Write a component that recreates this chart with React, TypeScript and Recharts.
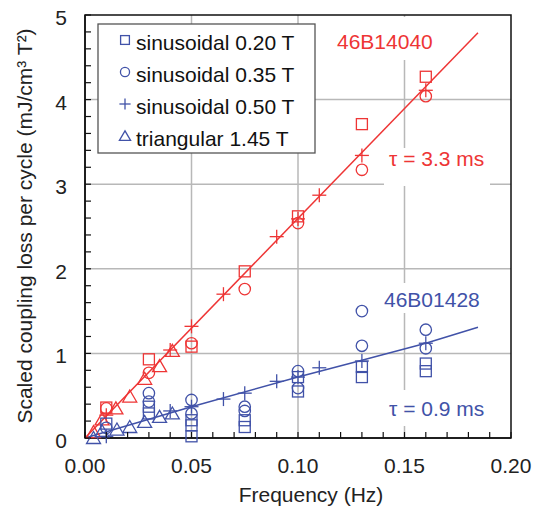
import { ComposedChart, Scatter, Line, XAxis, YAxis, CartesianGrid, ReferenceArea } from 'recharts'

const RED = '#ee3535'
const BLUE = '#4152a8'
const FONT = '"Liberation Sans", Arial, sans-serif'

// sample 46B14040 (red), [frequency Hz, loss]
const redSquare = [[0.01, 0.36], [0.03, 0.93], [0.05, 1.08], [0.075, 1.97], [0.10, 2.62], [0.13, 3.71], [0.16, 4.27]]
const redCircle = [[0.01, 0.35], [0.03, 0.77], [0.05, 1.12], [0.075, 1.76], [0.10, 2.54], [0.13, 3.17], [0.16, 4.04]]
const redPlus = [[0.01, 0.27], [0.04, 1.04], [0.05, 1.32], [0.065, 1.70], [0.09, 2.38], [0.10, 2.59], [0.11, 2.87], [0.13, 3.34], [0.16, 4.11]]
const redTriangle = [[0.004, 0.07], [0.008, 0.22], [0.0145, 0.35], [0.021, 0.49], [0.028, 0.70], [0.035, 0.85], [0.041, 1.03]]
const redFit = [[0, 0], [0.1845, 4.79]]

// sample 46B01428 (blue)
const blueSquare = [[0.01, 0.17], [0.03, 0.37], [0.03, 0.29], [0.05, 0.21], [0.05, 0.15], [0.05, 0.02], [0.075, 0.21], [0.075, 0.13], [0.10, 0.72], [0.10, 0.55], [0.13, 0.84], [0.13, 0.72], [0.16, 0.88], [0.16, 0.79]]
const blueCircle = [[0.01, 0.12], [0.03, 0.53], [0.03, 0.43], [0.05, 0.45], [0.05, 0.29], [0.075, 0.37], [0.075, 0.32], [0.10, 0.79], [0.10, 0.59], [0.13, 1.50], [0.13, 1.09], [0.16, 1.28], [0.16, 1.06]]
const bluePlus = [[0.01, 0.02], [0.04, 0.32], [0.05, 0.37], [0.065, 0.46], [0.075, 0.53], [0.09, 0.67], [0.10, 0.72], [0.11, 0.83], [0.13, 0.91], [0.16, 1.12]]
const blueTriangle = [[0.004, 0.0], [0.008, 0.08], [0.015, 0.10], [0.021, 0.13], [0.028, 0.19], [0.035, 0.25], [0.041, 0.29]]
const blueFit = [[0, 0], [0.05, 0.37], [0.10, 0.72], [0.13, 0.92], [0.16, 1.12], [0.1845, 1.31]]

const xTicks = [0, 0.01, 0.02, 0.03, 0.04, 0.05, 0.06, 0.07, 0.08, 0.09, 0.10, 0.11, 0.12, 0.13, 0.14, 0.15, 0.16, 0.17, 0.18, 0.19, 0.20]
const xMajor = [0, 0.05, 0.10, 0.15, 0.20]
const yTicks = [0, 0.2, 0.4, 0.6, 0.8, 1, 1.2, 1.4, 1.6, 1.8, 2, 2.2, 2.4, 2.6, 2.8, 3, 3.2, 3.4, 3.6, 3.8, 4, 4.2, 4.4, 4.6, 4.8, 5]
const yMajor = [0, 1, 2, 3, 4, 5]

const legendLabels = ['sinusoidal 0.20 T', 'sinusoidal 0.35 T', 'sinusoidal 0.50 T', 'triangular 1.45 T']

const pts = (a: number[][]) => a.map(([x, y]) => ({ x, y }))

function Marker({ kind, cx, cy, c, s = 1 }: { kind: string; cx: number; cy: number; c: string; s?: number }) {
  if (cx == null || cy == null) return null
  if (kind === 'square') return <rect x={cx - 5.5 * s} y={cy - 5.5 * s} width={11 * s} height={11 * s} fill="none" stroke={c} strokeWidth={1.3} />
  if (kind === 'circle') return <circle cx={cx} cy={cy} r={5.7 * s} fill="none" stroke={c} strokeWidth={1.3} />
  if (kind === 'plus')
    return (
      <g stroke={c} strokeWidth={1.3}>
        <line x1={cx - 7 * s} y1={cy} x2={cx + 7 * s} y2={cy} />
        <line x1={cx} y1={cy - 7 * s} x2={cx} y2={cy + 7 * s} />
      </g>
    )
  return <polygon points={`${cx},${cy - 6.5 * s} ${cx - 7 * s},${cy + 5.5 * s} ${cx + 7 * s},${cy + 5.5 * s}`} fill="none" stroke={c} strokeWidth={1.3} />
}

const shape = (kind: string, c: string) => (p: any) => <Marker kind={kind} cx={p.cx} cy={p.cy} c={c} />

function XTick(props: any) {
  const { x, y, payload } = props
  const v = payload.value
  const major = xMajor.some((m) => Math.abs(m - v) < 1e-9)
  return (
    <g>
      <line x1={x} y1={y} x2={x} y2={y - 6} stroke="#111" strokeWidth={1.2} />
      {major && (
        <text x={x} y={y + 35} textAnchor="middle" fontSize={21} fill="#222" fontFamily={FONT}>
          {v.toFixed(2)}
        </text>
      )}
    </g>
  )
}

function YTick(props: any) {
  const { x, y, payload } = props
  const v = payload.value
  const major = yMajor.some((m) => Math.abs(m - v) < 1e-9)
  return (
    <g>
      <line x1={x} y1={y} x2={x + 6} y2={y} stroke="#111" strokeWidth={1.2} />
      {major && (
        <text x={x - 18} y={y + 10} textAnchor="end" fontSize={21} fill="#222" fontFamily={FONT}>
          {v}
        </text>
      )}
    </g>
  )
}

const kinds = ['square', 'circle', 'plus', 'triangle']

export default function App() {
  return (
    <div style={{ position: 'absolute', left: 0, top: 0, width: 540, height: 508, background: '#fff', fontFamily: FONT }}>
      <ComposedChart width={540} height={508} margin={{ top: 15, right: 29, bottom: 0, left: 0 }}>
        <CartesianGrid verticalValues={[0.05, 0.10, 0.15]} horizontalValues={[1, 2, 3, 4]} stroke="#b8b8b8" strokeWidth={1.5} />
        <XAxis
          type="number"
          dataKey="x"
          domain={[0, 0.2]}
          ticks={xTicks}
          interval={0}
          tickSize={0}
          tickMargin={0}
          tickLine={false}
          tick={<XTick />}
          axisLine={{ stroke: '#111', strokeWidth: 1.5 }}
          height={70}
        />
        <YAxis
          type="number"
          dataKey="y"
          domain={[0, 5]}
          ticks={yTicks}
          interval={0}
          tickSize={0}
          tickMargin={0}
          tickLine={false}
          tick={<YTick />}
          axisLine={{ stroke: '#111', strokeWidth: 1.5 }}
          width={85}
        />
        <ReferenceArea x1={0} x2={0.2} y1={0} y2={5} fill="none" stroke="#111" strokeWidth={1.5} />
        <Line data={pts(redFit)} dataKey="y" type="linear" stroke={RED} strokeWidth={1.5} dot={false} isAnimationActive={false} />
        <Line data={pts(blueFit)} dataKey="y" type="linear" stroke={BLUE} strokeWidth={1.5} dot={false} isAnimationActive={false} />
        <Scatter data={pts(redSquare)} dataKey="y" shape={shape('square', RED)} isAnimationActive={false} />
        <Scatter data={pts(redCircle)} dataKey="y" shape={shape('circle', RED)} isAnimationActive={false} />
        <Scatter data={pts(redPlus)} dataKey="y" shape={shape('plus', RED)} isAnimationActive={false} />
        <Scatter data={pts(redTriangle)} dataKey="y" shape={shape('triangle', RED)} isAnimationActive={false} />
        <Scatter data={pts(blueSquare)} dataKey="y" shape={shape('square', BLUE)} isAnimationActive={false} />
        <Scatter data={pts(blueCircle)} dataKey="y" shape={shape('circle', BLUE)} isAnimationActive={false} />
        <Scatter data={pts(bluePlus)} dataKey="y" shape={shape('plus', BLUE)} isAnimationActive={false} />
        <Scatter data={pts(blueTriangle)} dataKey="y" shape={shape('triangle', BLUE)} isAnimationActive={false} />
      </ComposedChart>
      <svg width={540} height={508} style={{ position: 'absolute', left: 0, top: 0, pointerEvents: 'none' }} fontFamily={FONT}>
        <text transform="translate(24,226) rotate(-90)" textAnchor="middle" dominantBaseline="central" fontSize={21} fill="#222">
          Scaled coupling loss per cycle (mJ/cm³ T²)
        </text>
        <text x={311} y={502} textAnchor="middle" fontSize={21} fill="#222">Frequency (Hz)</text>
        <rect x={98} y={24} width={217} height={129} fill="#fff" stroke="#555" strokeWidth={1.3} />
        {legendLabels.map((t, i) => (
          <g key={t}>
            <Marker kind={kinds[i]} cx={125} cy={40 + i * 32} c={BLUE} s={0.8} />
            <text x={136} y={50 + i * 32} fontSize={21} fill="#111">{t}</text>
          </g>
        ))}
        <rect x={332} y={17} width={106} height={43} fill="#fff" />
        <text x={337} y={49} fontSize={21} fill={RED}>46B14040</text>
        <rect x={384} y={148} width={106} height={38} fill="#fff" />
        <text x={389} y={166} fontSize={21} fill={RED}>τ = 3.3 ms</text>
        <rect x={379} y={283} width={106} height={30} fill="#fff" />
        <text x={384} y={307} fontSize={21} fill={BLUE}>46B01428</text>
        <rect x={384} y={390} width={106} height={36} fill="#fff" />
        <text x={389} y={416} fontSize={21} fill={BLUE}>τ = 0.9 ms</text>
      </svg>
    </div>
  )
}
